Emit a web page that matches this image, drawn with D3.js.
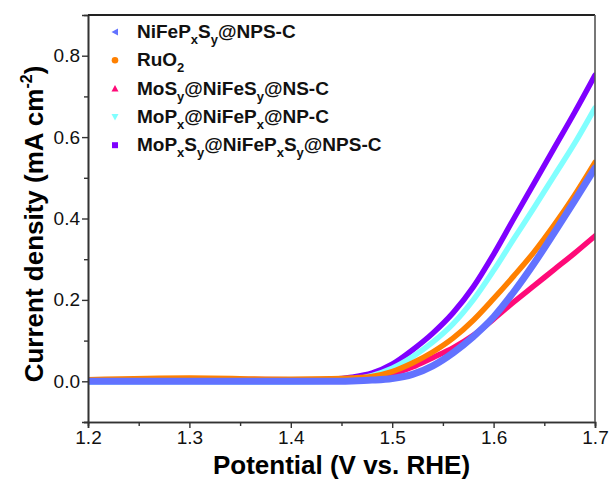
<!DOCTYPE html>
<html>
<head>
<meta charset="utf-8">
<script src="https://cdn.jsdelivr.net/npm/d3@7"></script>
<style>
  body { margin: 0; background: #fff; }
  text { font-family: "Liberation Sans", Arial, sans-serif; }
</style>
</head>
<body>
<div id="chart"></div>
<script>
// potentials (V vs. RHE) where the curves were read
var potential = [1.20, 1.30, 1.40, 1.44, 1.46, 1.48, 1.50, 1.52, 1.54, 1.56, 1.58, 1.60, 1.62, 1.64, 1.66, 1.68, 1.70];

var nifepsValues = [0.000, 0.000, 0.000, 0.000, 0.001, 0.003, 0.007, 0.017, 0.038, 0.070, 0.110, 0.158, 0.220, 0.290, 0.366, 0.444, 0.524];
var ruo2Values   = [0.004, 0.008, 0.005, 0.006, 0.008, 0.012, 0.024, 0.045, 0.072, 0.106, 0.150, 0.203, 0.259, 0.318, 0.385, 0.458, 0.538];
var mosValues    = [0.003, 0.005, 0.004, 0.004, 0.006, 0.010, 0.018, 0.035, 0.058, 0.082, 0.113, 0.153, 0.195, 0.235, 0.275, 0.315, 0.357];
var mopValues    = [-0.002, -0.001, -0.002, 0.000, 0.004, 0.014, 0.032, 0.060, 0.096, 0.141, 0.200, 0.272, 0.350, 0.427, 0.506, 0.585, 0.672];
var mopsValues   = [0.002, 0.003, 0.002, 0.005, 0.010, 0.020, 0.042, 0.077, 0.118, 0.168, 0.232, 0.312, 0.400, 0.487, 0.574, 0.661, 0.752];

var seriesNames = ["NiFeP_xS_y@NPS-C", "RuO_2", "MoS_y@NiFeS_y@NS-C", "MoP_x@NiFeP_x@NP-C", "MoP_xS_y@NiFeP_xS_y@NPS-C"];
var seriesColors = ["#6272ff", "#ff8000", "#ff0a78", "#80ffff", "#7f00ff"];
var seriesSymbols = ["tri-left", "circle", "tri-up", "tri-down", "square"];
var seriesValues = [nifepsValues, ruo2Values, mosValues, mopValues, mopsValues];

var xTicks = [1.2, 1.3, 1.4, 1.5, 1.6, 1.7];
var yTicks = [0.0, 0.2, 0.4, 0.6, 0.8];

var width = 611, height = 486;
var margin = {left: 88, right: 16, top: 15, bottom: 64};

var svg = d3.select("#chart").append("svg")
    .attr("width", width)
    .attr("height", height);

var x = d3.scaleLinear().domain([1.2, 1.7]).range([margin.left, width - margin.right]);
var y = d3.scaleLinear().domain([-0.1, 0.9]).range([height - margin.bottom, margin.top]);

// curves, blue drawn last so it sits on top
var drawOrder = [4, 3, 2, 1, 0];
var line = d3.line()
    .x(function(d){ return x(d[0]); })
    .y(function(d){ return y(d[1]); })
    .curve(d3.curveMonotoneX);

svg.append("clipPath").attr("id", "plotclip")
  .append("rect")
    .attr("x", x(1.2)).attr("y", y(0.9))
    .attr("width", x(1.7) - x(1.2)).attr("height", y(-0.1) - y(0.9));

var curves = svg.append("g").attr("clip-path", "url(#plotclip)");
drawOrder.forEach(function(i){
  var pts = potential.map(function(p, k){ return [p, seriesValues[i][k]]; });
  curves.append("path")
    .attr("d", line(pts))
    .attr("fill", "none")
    .attr("stroke", seriesColors[i])
    .attr("stroke-width", i == 0 ? 7 : 5.5)
    .attr("stroke-linecap", "round");
});

// axes
var xAxis = d3.axisBottom(x).tickValues(xTicks).tickSize(6).tickPadding(3).tickFormat(d3.format(".1f"));
var xMinor = d3.axisBottom(x).tickValues([1.25, 1.35, 1.45, 1.55, 1.65]).tickSize(4).tickFormat("");
var yAxis = d3.axisLeft(y).tickValues(yTicks).tickSize(6).tickPadding(2).tickFormat(d3.format(".1f"));
var yMinor = d3.axisLeft(y).tickValues([-0.1, 0.1, 0.3, 0.5, 0.7]).tickSize(4).tickFormat("");

function styleAxis(g){
  g.attr("font-size", 19).attr("font-family", "'Liberation Sans', Arial, sans-serif");
  g.select(".domain").attr("stroke", "#333").attr("stroke-width", 1.6);
  g.selectAll(".tick line").attr("stroke", "#333").attr("stroke-width", 1.4);
  g.selectAll(".tick text").attr("fill", "#111");
}

svg.append("g").attr("transform", "translate(0," + y(-0.1) + ")").call(xAxis).call(styleAxis);
svg.append("g").attr("transform", "translate(0," + y(-0.1) + ")").call(xMinor).call(styleAxis);
svg.append("g").attr("transform", "translate(" + x(1.2) + ",0)").call(yAxis).call(styleAxis);
svg.append("g").attr("transform", "translate(" + x(1.2) + ",0)").call(yMinor).call(styleAxis);

// frame top and right
svg.append("line")
  .attr("x1", x(1.2)).attr("x2", x(1.7))
  .attr("y1", y(0.9)).attr("y2", y(0.9))
  .attr("stroke", "#222").attr("stroke-width", 2);
svg.append("line")
  .attr("x1", x(1.7)).attr("x2", x(1.7))
  .attr("y1", y(0.9)).attr("y2", y(-0.1))
  .attr("stroke", "#555").attr("stroke-width", 1.6);

// axis titles
svg.append("text")
  .attr("x", (x(1.2) + x(1.7)) / 2)
  .attr("y", 474)
  .attr("text-anchor", "middle")
  .attr("font-size", 26).attr("font-weight", "bold")
  .text("Potential (V vs. RHE)");

var yt = svg.append("text")
  .attr("transform", "translate(43,224) rotate(-90)")
  .attr("text-anchor", "middle")
  .attr("font-size", 26).attr("font-weight", "bold");
yt.append("tspan").text("Current density (mA cm");
yt.append("tspan").attr("font-size", 16).attr("dy", -11).text("-2");
yt.append("tspan").attr("dy", 11).text(")");

// legend
function addRich(textSel, label){
  // "_c" means subscript c
  var parts = label.split(/(_.)/).filter(function(p){ return p !== ""; });
  var shift = 0;
  parts.forEach(function(p){
    if(p[0] === "_"){
      textSel.append("tspan").attr("font-size", 13).attr("dy", 6 - shift).text(p[1]);
      shift = 6;
    } else {
      textSel.append("tspan").attr("font-size", 19).attr("dy", -shift).text(p);
      shift = 0;
    }
  });
}

var symbolShapes = {
  "tri-left": "M3,-3.5L-3.5,0L3,3.5Z",
  "tri-up": "M0,-3.5L3.5,3L-3.5,3Z",
  "tri-down": "M0,3.5L3.5,-3L-3.5,-3Z",
  "square": "M-3,-3H3V3H-3Z"
};

var legend = svg.append("g");
seriesNames.forEach(function(name, i){
  var ly = 32 + i * 28.3;
  if(seriesSymbols[i] === "circle"){
    legend.append("circle").attr("cx", 115).attr("cy", ly).attr("r", 3.3).attr("fill", seriesColors[i]);
  } else {
    legend.append("path").attr("transform", "translate(115," + ly + ")")
      .attr("d", symbolShapes[seriesSymbols[i]]).attr("fill", seriesColors[i]);
  }
  var t = legend.append("text")
    .attr("x", 137).attr("y", ly + 6)
    .attr("font-weight", "bold").attr("fill", "#111");
  addRich(t, name);
});
</script>
</body>
</html>
